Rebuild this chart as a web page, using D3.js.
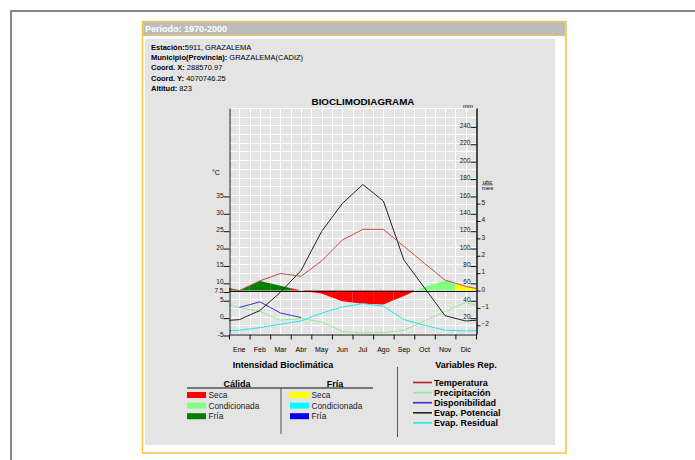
<!DOCTYPE html>
<html>
<head>
<meta charset="utf-8">
<script src="https://cdn.jsdelivr.net/npm/d3@7"></script>
<style>
  body { margin: 0; background: #fff; }
  svg { display: block; font-family: "Liberation Sans", Arial, sans-serif; }
</style>
</head>
<body>
<div id="chart"></div>
<script>
// monthly values
var months = ["Ene", "Feb", "Mar", "Abr", "May", "Jun", "Jul", "Ago", "Sep", "Oct", "Nov", "Dic"];
var temperatura = [7.5, 10.3, 12.4, 11.6, 16.0, 22.0, 25.1, 25.1, 20.2, 15.3, 10.5, 8.7];      // °C
var precipitacion = [30.5, 26, 15.8, 17.8, 13.8, 3.1, 1.2, 1.6, 4.3, 15.2, 26, 36.2];         // mm
var disponibilidad = [30.5, 37, 24.2, 18.9];                                                   // mm, Ene-Abr
var evapPotencial = [16.5, 27, 48, 73, 118, 150, 172, 153, 85, 53, 21, 15];                    // mm
var evapResidual = [4.3, 7.4, 11.2, 15, 24, 31, 35, 32, 16.6, 10, 4.3, 3.5];                   // mm
var intensidad = [0, 0.55, 0.27, 0, -0.17, -0.62, -0.76, -0.8, -0.31, 0.21, 0.58, 0.25];       // ubc/mes
var claseMes = ["cFria", "cFria", "cFria", "cSeca", "cSeca", "cSeca", "cSeca", "cSeca", "cSeca", "cCond", "cCond", "fSeca"];

var tempTicks = [-5, 0, 5, 7.5, 10, 15, 20, 25, 30, 35];
var mmTicks = [20, 40, 60, 80, 100, 120, 140, 160, 180, 200, 220, 240];
var ubcTicks = [-2, -1, 0, 1, 2, 3, 4, 5];

var info = [
  ["Estación:", "5911, GRAZALEMA"],
  ["Municipio(Provincia): ", "GRAZALEMA(CADIZ)"],
  ["Coord. X: ", "288570.97"],
  ["Coord. Y: ", "4070746.25"],
  ["Altitud: ", "823"]
];

var clases = ["cSeca", "cCond", "cFria", "fSeca", "fCond", "fFria"];
var claseNames = ["Seca", "Condicionada", "Fría", "Seca", "Condicionada", "Fría"];
var color = d3.scaleOrdinal()
  .domain(clases)
  .range(["#ff0000", "#80ff80", "#008000", "#ffff00", "#00ffff", "#0000ff"]);

var varNames = ["Temperatura", "Precipitación", "Disponibilidad", "Evap. Potencial", "Evap. Residual"];
var varColors = ["#b22222", "#90ee90", "#3535c8", "#222222", "#20e8f0"];

var width = 695, height = 460;
var plot = { left: 229, right: 476, top: 108, bottom: 334 };

var svg = d3.select("#chart").append("svg")
  .attr("width", width)
  .attr("height", height);

//Page frame
svg.append("rect")
  .attr("x", 11).attr("y", 11)
  .attr("width", 800).attr("height", 800)
  .attr("fill", "none")
  .attr("stroke", "#858585")
  .attr("stroke-width", 2);

svg.append("rect")
  .attr("x", 142.5).attr("y", 21.5)
  .attr("width", 423.5).attr("height", 431.5)
  .attr("fill", "#fff")
  .attr("stroke", "#f0c446")
  .attr("stroke-width", 1.5);

svg.append("rect")
  .attr("x", 143.2).attr("y", 22.2)
  .attr("width", 422.1).attr("height", 13)
  .attr("fill", "#bcbcbc");

svg.append("line")
  .attr("x1", 143).attr("x2", 566)
  .attr("y1", 35.5).attr("y2", 35.5)
  .attr("stroke", "#f0c446");

svg.append("text")
  .attr("x", 145).attr("y", 32)
  .style("font-size", "9px")
  .style("font-weight", "bold")
  .attr("fill", "#fff")
  .text("Periodo: 1970-2000");

svg.append("rect")
  .attr("x", 145).attr("y", 39)
  .attr("width", 410).attr("height", 406)
  .attr("fill", "#e4e4e4");

//Station info
var infoRows = svg.selectAll(".info")
  .data(info)
  .enter().append("text")
  .attr("class", "info")
  .attr("x", 151)
  .attr("y", function(d, i) { return [49.8, 59.8, 70.2, 80.8, 90.8][i]; })
  .style("font-size", "7.5px");

infoRows.append("tspan").style("font-weight", "bold").text(function(d) { return d[0]; });
infoRows.append("tspan").text(function(d) { return d[1]; });

//Scales
var xE = d3.scaleLinear().domain([0, 12]).range([plot.left, plot.right]);
var xC = d3.scaleBand().domain(months).range([plot.left, plot.right]);
var center = function(i) { return xC(months[i]) + xC.bandwidth() / 2; };

var yT = d3.scaleLinear().domain([-5, 60]).range([plot.bottom, plot.top]);
var yMM = d3.scaleLinear().domain([0, 260]).range([plot.bottom, plot.top]);
var yU = d3.scaleLinear().domain([-2.5, 10.5]).range([plot.bottom, plot.top]);

//Grid
var grid = svg.append("g").attr("class", "grid");
grid.selectAll(".gv")
  .data(d3.range(25))
  .enter().append("line")
  .attr("x1", function(d) { return Math.round(xE(d / 2)) + 0.5; })
  .attr("x2", function(d) { return Math.round(xE(d / 2)) + 0.5; })
  .attr("y1", plot.top).attr("y2", plot.bottom)
  .attr("stroke", "#fff");

grid.selectAll(".gh")
  .data(d3.range(27))
  .enter().append("line")
  .attr("y1", function(d) { return Math.round(yT(-5 + d * 2.5)) + 0.5; })
  .attr("y2", function(d) { return Math.round(yT(-5 + d * 2.5)) + 0.5; })
  .attr("x1", plot.left).attr("x2", plot.right)
  .attr("stroke", "#fff");

//Points at month centres, closed on both edges by the Dic/Ene mean
function withEdges(values) {
  var edge = (values[11] + values[0]) / 2;
  var pts = values.map(function(v, i) { return { x: center(i), v: v }; });
  return [{ x: xE(0), v: edge }].concat(pts, [{ x: xE(12), v: edge }]);
}

//Bioclimatic intensity areas, coloured by month column
var defs = svg.append("defs");
defs.selectAll("clipPath")
  .data(months)
  .enter().append("clipPath")
  .attr("id", function(d, i) { return "col" + i; })
  .append("rect")
  .attr("x", function(d, i) { return xE(i); })
  .attr("width", xE(1) - xE(0))
  .attr("y", plot.top)
  .attr("height", plot.bottom - plot.top);

var area = d3.area()
  .x(function(d) { return d.x; })
  .y0(yU(0))
  .y1(function(d) { return yU(d.v); });

var intPts = withEdges(intensidad);
svg.append("g").selectAll("path")
  .data(claseMes)
  .enter().append("path")
  .attr("clip-path", function(d, i) { return "url(#col" + i + ")"; })
  .attr("d", area(intPts))
  .attr("fill", function(d) { return color(d); });

svg.append("line")
  .attr("x1", plot.left).attr("x2", plot.right)
  .attr("y1", Math.round(yU(0)) + 0.5).attr("y2", Math.round(yU(0)) + 0.5)
  .attr("stroke", "#111");

//Variable lines
var line = d3.line()
  .x(function(d) { return d.x; })
  .y(function(d) { return d.y; });

var series = [
  { c: varColors[1], pts: withEdges(precipitacion).map(function(d) { return { x: d.x, y: yMM(d.v) }; }) },
  { c: varColors[4], pts: withEdges(evapResidual).map(function(d) { return { x: d.x, y: yMM(d.v) }; }) },
  { c: varColors[2], pts: disponibilidad.map(function(v, i) { return { x: center(i), y: yMM(v) }; }) },
  { c: varColors[3], pts: withEdges(evapPotencial).map(function(d) { return { x: d.x, y: yMM(d.v) }; }) },
  { c: "#c84a4a", pts: withEdges(temperatura).map(function(d) { return { x: d.x, y: yT(d.v) }; }) }
];

svg.append("g").selectAll("path")
  .data(series)
  .enter().append("path")
  .attr("fill", "none")
  .attr("stroke", function(d) { return d.c; })
  .attr("stroke-width", 1)
  .attr("d", function(d) { return line(d.pts); });

//Axes
var gL = svg.append("g")
  .attr("transform", "translate(" + (plot.left + 0.5) + ",0)")
  .call(d3.axisLeft(yT).tickValues(tempTicks).tickSize(6).tickSizeOuter(0).tickPadding(0)
    .tickFormat(function(d) { return d; }));

var gR = svg.append("g")
  .attr("transform", "translate(" + (plot.right + 0.5) + ",0)")
  .call(d3.axisLeft(yMM).tickValues(mmTicks).tickSize(6).tickSizeOuter(0).tickPadding(0));

var gU = svg.append("g")
  .attr("transform", "translate(" + (plot.right + 0.5) + ",0)")
  .call(d3.axisRight(yU).tickValues(ubcTicks).tickSize(4).tickSizeOuter(0).tickPadding(1));

var gB = svg.append("g")
  .attr("transform", "translate(0," + (plot.bottom + 0.5) + ")")
  .call(d3.axisBottom(xE).tickValues(d3.range(13)).tickSize(5).tickSizeOuter(0).tickFormat(""));

[gL, gR, gU, gB].forEach(function(g) {
  g.attr("font-family", null).attr("font-size", null);
  g.select(".domain").attr("stroke", "#111");
  g.selectAll(".tick line").attr("stroke", "#111");
  g.selectAll("text").style("font-size", "6.5px").attr("fill", "#111");
});
gL.selectAll(".tick line").attr("transform", "translate(0,1.5)");
gR.selectAll(".tick line").attr("transform", "translate(0,1.5)");
gU.selectAll(".tick text").attr("dy", "0.1em");

svg.selectAll(".month")
  .data(months)
  .enter().append("text")
  .attr("class", "month")
  .attr("x", function(d, i) { return center(i); })
  .attr("y", 351.5)
  .attr("text-anchor", "middle")
  .style("font-size", "7px")
  .text(function(d) { return d; });

//Titles and units
svg.append("text")
  .attr("x", 363).attr("y", 105)
  .attr("text-anchor", "middle")
  .style("font-size", "9.8px")
  .style("font-weight", "bold")
  .text("BIOCLIMODIAGRAMA");

svg.append("text")
  .attr("x", 216).attr("y", 175)
  .attr("text-anchor", "middle")
  .style("font-size", "7px")
  .text("°C");

svg.append("text")
  .attr("x", 468).attr("y", 108)
  .attr("text-anchor", "middle")
  .style("font-size", "6px")
  .text("mm");

svg.append("text")
  .attr("x", 487.5).attr("y", 184)
  .attr("text-anchor", "middle")
  .style("font-size", "6px")
  .text("ubc");
svg.append("line")
  .attr("x1", 482).attr("x2", 493)
  .attr("y1", 184.8).attr("y2", 184.8)
  .attr("stroke", "#111").attr("stroke-width", 0.6);
svg.append("text")
  .attr("x", 487.5).attr("y", 189.5)
  .attr("text-anchor", "middle")
  .style("font-size", "6px")
  .text("mes");

//Legend: bioclimatic intensity
svg.append("text")
  .attr("x", 283).attr("y", 367.5)
  .attr("text-anchor", "middle")
  .style("font-size", "9px")
  .style("font-weight", "bold")
  .text("Intensidad Bioclimática");

svg.selectAll(".colHead")
  .data(["Cálida", "Fría"])
  .enter().append("text")
  .attr("class", "colHead")
  .attr("x", function(d, i) { return [237, 335][i]; })
  .attr("y", 386.5)
  .attr("text-anchor", "middle")
  .style("font-size", "9px")
  .style("font-weight", "bold")
  .text(function(d) { return d; });

svg.append("line")
  .attr("x1", 187).attr("x2", 373)
  .attr("y1", 388).attr("y2", 388)
  .attr("stroke", "#555").attr("stroke-width", 1.3);
svg.append("line")
  .attr("x1", 281).attr("x2", 281)
  .attr("y1", 388).attr("y2", 434)
  .attr("stroke", "#555").attr("stroke-width", 1);

var legend = svg.selectAll(".legend")
  .data(clases)
  .enter().append("g")
  .attr("class", "legend")
  .attr("transform", function(d, i) {
    return "translate(" + (i < 3 ? 187 : 290) + "," + (392 + (i % 3) * 10.6) + ")";
  });

legend.append("rect")
  .attr("width", 19)
  .attr("height", 6)
  .style("fill", function(d) { return color(d); });

legend.append("text")
  .attr("x", 21.5)
  .attr("y", 6)
  .style("font-size", "8.3px")
  .attr("fill", "#222")
  .text(function(d, i) { return claseNames[i]; });

//Legend: variables
svg.append("text")
  .attr("x", 466).attr("y", 368)
  .attr("text-anchor", "middle")
  .style("font-size", "9px")
  .style("font-weight", "bold")
  .text("Variables Rep.");

svg.append("line")
  .attr("x1", 397.5).attr("x2", 397.5)
  .attr("y1", 367).attr("y2", 437)
  .attr("stroke", "#555").attr("stroke-width", 1);

var vlegend = svg.selectAll(".vlegend")
  .data(varNames)
  .enter().append("g")
  .attr("class", "vlegend")
  .attr("transform", function(d, i) { return "translate(413," + (382.5 + i * 10.1) + ")"; });

vlegend.append("line")
  .attr("x1", 0).attr("x2", 19)
  .attr("stroke", function(d, i) { return varColors[i]; })
  .attr("stroke-width", 1.6);

vlegend.append("text")
  .attr("x", 21)
  .attr("y", 3.2)
  .style("font-size", "9px")
  .style("font-weight", "bold")
  .text(function(d) { return d; });
</script>
</body>
</html>
